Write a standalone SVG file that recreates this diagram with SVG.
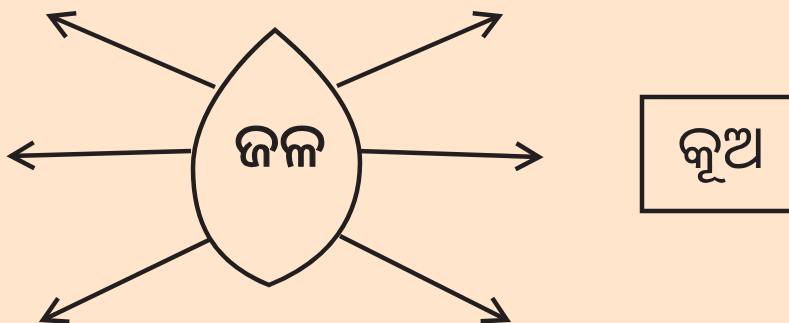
<svg xmlns="http://www.w3.org/2000/svg" width="789" height="323" viewBox="0 0 789 323">
<style>
.ln{stroke:#231F20;stroke-width:4.5;fill:none;}
.tx{font-family:"Noto Sans Oriya","Noto Sans","DejaVu Sans",sans-serif;fill:#231F20;text-anchor:middle;}
</style>
<defs>
<marker id="ah" markerUnits="userSpaceOnUse" viewBox="-30 -20 40 40" refX="0" refY="0" markerWidth="40" markerHeight="40" orient="auto">
<path d="M-23,-13 L0,0 L-23,13" fill="none" stroke="#231F20" stroke-width="4.5" stroke-linejoin="miter"/>
</marker>
</defs>
<rect width="789" height="323" fill="#FEE5CB"/>
<g id="connectors">
<line class="ln" x1="215" y1="87" x2="50" y2="16" marker-end="url(#ah)"/>
<line class="ln" x1="337" y1="86" x2="499" y2="16" marker-end="url(#ah)"/>
<line class="ln" x1="191" y1="151" x2="11" y2="156" marker-end="url(#ah)"/>
<line class="ln" x1="358" y1="151" x2="539" y2="157" marker-end="url(#ah)"/>
<line class="ln" x1="211" y1="239" x2="43" y2="320" marker-end="url(#ah)"/>
<line class="ln" x1="340" y1="236" x2="507" y2="320" marker-end="url(#ah)"/>
</g>
<g id="water">
<path class="ln" d="M275,30 C245,55 193,110 193,168 C193,222 212,262 269,285 C332,260 360,215 360,162 C360,105 305,55 275,30 Z"/>
<text class="tx" x="280" y="166" font-size="60" stroke="#231F20" stroke-width="1.2">ଜଳ</text>
</g>
<g id="well">
<rect class="ln" x="642" y="97" width="160" height="114"/>
<text class="tx" x="721" y="168" font-size="60">କୂଅ</text>
</g>
</svg>
